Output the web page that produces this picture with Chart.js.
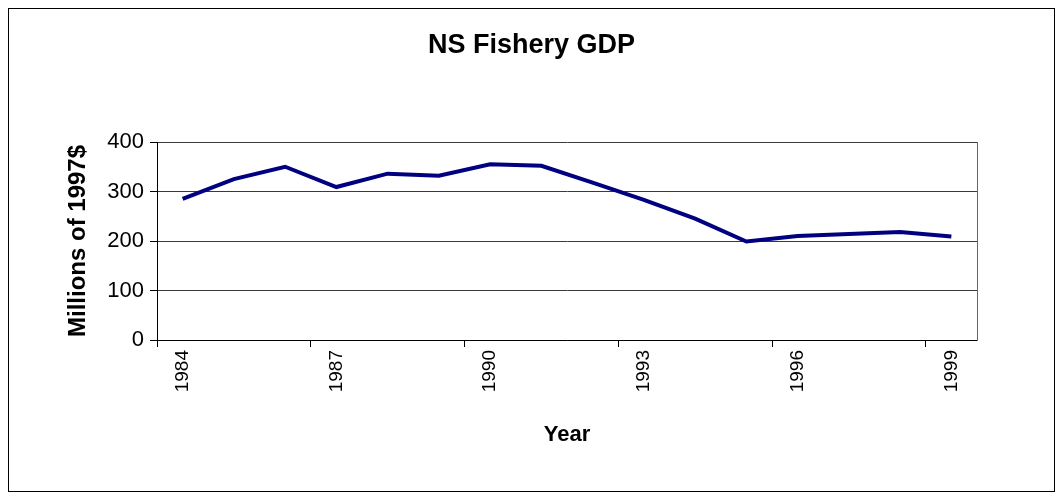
<!DOCTYPE html>
<html>
<head>
<meta charset="utf-8">
<script src="https://cdn.jsdelivr.net/npm/chart.js@4.4.1/dist/chart.umd.min.js"></script>
<style>
  html, body { margin: 0; padding: 0; background: #fff; }
  #wrap { width: 1063px; height: 500px; }
</style>
</head>
<body>
<div id="wrap"><canvas id="chart" width="1063" height="500"></canvas></div>
<script>
// values
const years = ['1984', '1985', '1986', '1987', '1988', '1989', '1990', '1991',
               '1992', '1993', '1994', '1995', '1996', '1997', '1998', '1999']
const gdp = [285, 325, 350, 309, 336, 332, 355, 352,
             318, 283, 245, 199, 210, 214, 218, 209]
const yMin = 0
const yMax = 400
const yStep = 100
const labelEvery = 3

Chart.defaults.font.family = '"Liberation Sans", Arial, sans-serif'
Chart.defaults.color = '#000'

// white page and the thin frame round the whole chart
const frame = {
    id: 'frame',
    beforeDraw(chart) {
        const ctx = chart.ctx
        ctx.save()
        ctx.fillStyle = '#fff'
        ctx.fillRect(0, 0, chart.width, chart.height)
        ctx.strokeStyle = '#000'
        ctx.lineWidth = 1
        ctx.strokeRect(8.5, 8.5, 1046, 483)
        ctx.restore()
    },
}

new Chart(document.getElementById('chart'), {
    type: 'line',
    data: {
        labels: years,
        datasets: [
            {
                data: gdp,
                borderColor: '#000080',
                borderWidth: 4,
                pointRadius: 0,
                tension: 0,
                fill: false,
            },
        ],
    },
    options: {
        responsive: false,
        animation: false,
        devicePixelRatio: 1,
        layout: { padding: 0 },
        plugins: {
            legend: { display: false },
            tooltip: { enabled: false },
            title: {
                display: true,
                text: 'NS Fishery GDP',
                font: { size: 27, weight: 'bold' },
                color: '#000',
                padding: { top: 29, bottom: 80.6 },
            },
        },
        scales: {
            x: {
                type: 'category',
                offset: true,
                grid: {
                    offset: true,
                    drawOnChartArea: false,
                    tickLength: 7,
                    tickColor: (c) =>
                        c.index !== undefined && c.index % labelEvery === 0
                            ? '#000'
                            : 'rgba(0,0,0,0)',
                },
                border: { color: '#000' },
                ticks: {
                    autoSkip: false,
                    minRotation: 90,
                    maxRotation: 90,
                    padding: 3,
                    font: { size: 19 },
                    callback: function (v, i) {
                        return i % labelEvery === 0 ? this.getLabelForValue(v) : ''
                    },
                },
                title: {
                    display: true,
                    text: 'Year',
                    font: { size: 22, weight: 'bold' },
                    padding: { top: 0, bottom: 52 },
                },
                afterFit: (s) => {
                    s.height = 160
                },
            },
            y: {
                min: yMin,
                max: yMax,
                ticks: { stepSize: yStep, padding: 6, font: { size: 22 } },
                grid: { color: '#3a3a3a', tickColor: '#000', tickLength: 7 },
                border: { color: '#000' },
                title: {
                    display: true,
                    text: 'Millions of 1997$',
                    font: { size: 24, weight: 'bold' },
                    padding: { top: 63.6, bottom: 0 },
                },
                afterFit: (s) => {
                    s.width = 157
                },
            },
            // empty right axis: keeps the right margin and draws the plot's right edge
            y2: {
                position: 'right',
                min: yMin,
                max: yMax,
                ticks: { display: false },
                grid: { display: false },
                border: { color: '#666' },
                afterFit: (s) => {
                    s.width = 86
                },
            },
        },
    },
    plugins: [frame],
})
</script>
</body>
</html>
